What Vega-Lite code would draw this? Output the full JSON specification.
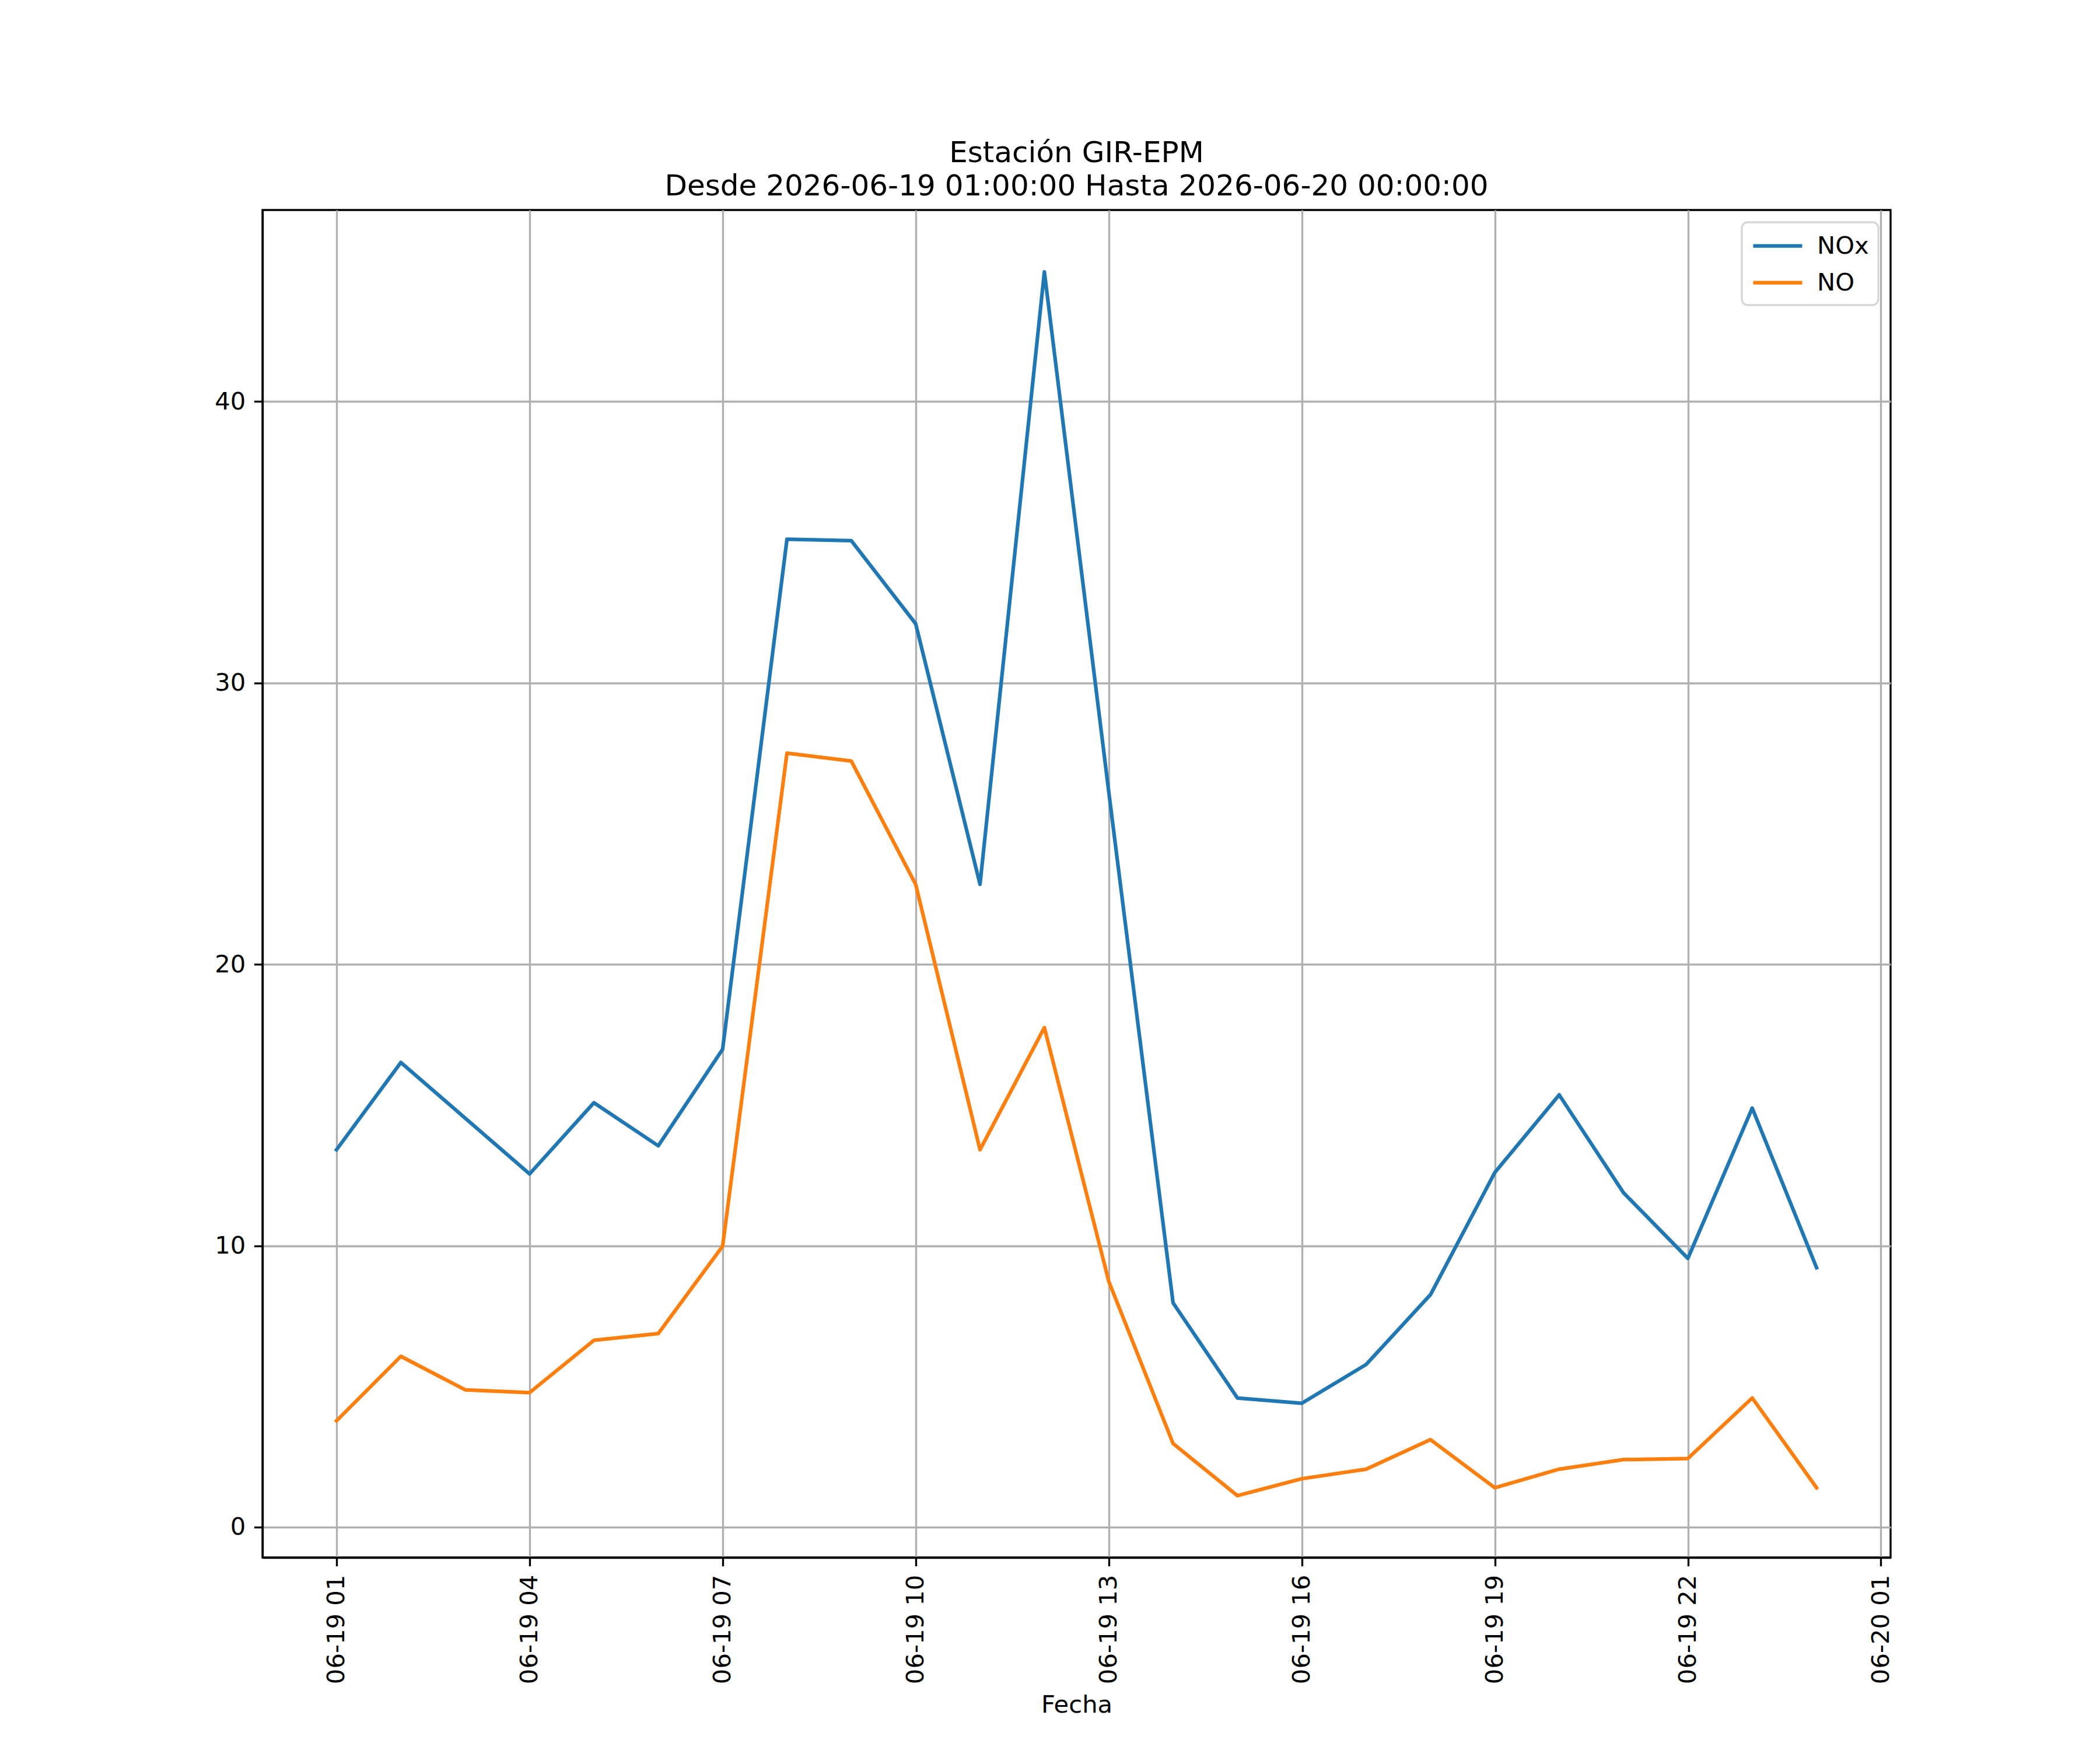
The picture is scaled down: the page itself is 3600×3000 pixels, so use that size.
{
  "$schema": "https://vega.github.io/schema/vega-lite/v6.json",
  "autosize": {"type": "none"},
  "width": 2791,
  "height": 2310,
  "padding": {"left": 450, "top": 360, "right": 359, "bottom": 330},
  "background": "white",
  "title": {
    "text": ["Estación GIR-EPM", "Desde 2026-06-19 01:00:00 Hasta 2026-06-20 00:00:00"],
    "anchor": "middle",
    "frame": "group",
    "baseline": "bottom",
    "offset": -35,
    "lineHeight": 57,
    "font": "DejaVu Sans",
    "fontSize": 50,
    "fontWeight": "normal",
    "color": "black"
  },
  "data": {
    "values": [
      {"fecha": "2026-06-19T01:00:00Z", "serie": "NOx", "valor": 13.41},
      {"fecha": "2026-06-19T02:00:00Z", "serie": "NOx", "valor": 16.51},
      {"fecha": "2026-06-19T03:00:00Z", "serie": "NOx", "valor": 14.53},
      {"fecha": "2026-06-19T04:00:00Z", "serie": "NOx", "valor": 12.55},
      {"fecha": "2026-06-19T05:00:00Z", "serie": "NOx", "valor": 15.08},
      {"fecha": "2026-06-19T06:00:00Z", "serie": "NOx", "valor": 13.55},
      {"fecha": "2026-06-19T07:00:00Z", "serie": "NOx", "valor": 16.98},
      {"fecha": "2026-06-19T08:00:00Z", "serie": "NOx", "valor": 35.1},
      {"fecha": "2026-06-19T09:00:00Z", "serie": "NOx", "valor": 35.05},
      {"fecha": "2026-06-19T10:00:00Z", "serie": "NOx", "valor": 32.1},
      {"fecha": "2026-06-19T11:00:00Z", "serie": "NOx", "valor": 22.84},
      {"fecha": "2026-06-19T12:00:00Z", "serie": "NOx", "valor": 44.6},
      {"fecha": "2026-06-19T13:00:00Z", "serie": "NOx", "valor": 26.14},
      {"fecha": "2026-06-19T14:00:00Z", "serie": "NOx", "valor": 7.97},
      {"fecha": "2026-06-19T15:00:00Z", "serie": "NOx", "valor": 4.59},
      {"fecha": "2026-06-19T16:00:00Z", "serie": "NOx", "valor": 4.4},
      {"fecha": "2026-06-19T17:00:00Z", "serie": "NOx", "valor": 5.78},
      {"fecha": "2026-06-19T18:00:00Z", "serie": "NOx", "valor": 8.26},
      {"fecha": "2026-06-19T19:00:00Z", "serie": "NOx", "valor": 12.6},
      {"fecha": "2026-06-19T20:00:00Z", "serie": "NOx", "valor": 15.36},
      {"fecha": "2026-06-19T21:00:00Z", "serie": "NOx", "valor": 11.88},
      {"fecha": "2026-06-19T22:00:00Z", "serie": "NOx", "valor": 9.55},
      {"fecha": "2026-06-19T23:00:00Z", "serie": "NOx", "valor": 14.89},
      {"fecha": "2026-06-20T00:00:00Z", "serie": "NOx", "valor": 9.22},
      {"fecha": "2026-06-19T01:00:00Z", "serie": "NO", "valor": 3.78},
      {"fecha": "2026-06-19T02:00:00Z", "serie": "NO", "valor": 6.07},
      {"fecha": "2026-06-19T03:00:00Z", "serie": "NO", "valor": 4.88},
      {"fecha": "2026-06-19T04:00:00Z", "serie": "NO", "valor": 4.78},
      {"fecha": "2026-06-19T05:00:00Z", "serie": "NO", "valor": 6.64},
      {"fecha": "2026-06-19T06:00:00Z", "serie": "NO", "valor": 6.88},
      {"fecha": "2026-06-19T07:00:00Z", "serie": "NO", "valor": 9.98},
      {"fecha": "2026-06-19T08:00:00Z", "serie": "NO", "valor": 27.5},
      {"fecha": "2026-06-19T09:00:00Z", "serie": "NO", "valor": 27.22},
      {"fecha": "2026-06-19T10:00:00Z", "serie": "NO", "valor": 22.84},
      {"fecha": "2026-06-19T11:00:00Z", "serie": "NO", "valor": 13.41},
      {"fecha": "2026-06-19T12:00:00Z", "serie": "NO", "valor": 17.75},
      {"fecha": "2026-06-19T13:00:00Z", "serie": "NO", "valor": 8.74},
      {"fecha": "2026-06-19T14:00:00Z", "serie": "NO", "valor": 2.97},
      {"fecha": "2026-06-19T15:00:00Z", "serie": "NO", "valor": 1.12},
      {"fecha": "2026-06-19T16:00:00Z", "serie": "NO", "valor": 1.72},
      {"fecha": "2026-06-19T17:00:00Z", "serie": "NO", "valor": 2.06},
      {"fecha": "2026-06-19T18:00:00Z", "serie": "NO", "valor": 3.11},
      {"fecha": "2026-06-19T19:00:00Z", "serie": "NO", "valor": 1.4},
      {"fecha": "2026-06-19T20:00:00Z", "serie": "NO", "valor": 2.06},
      {"fecha": "2026-06-19T21:00:00Z", "serie": "NO", "valor": 2.4},
      {"fecha": "2026-06-19T22:00:00Z", "serie": "NO", "valor": 2.44},
      {"fecha": "2026-06-19T23:00:00Z", "serie": "NO", "valor": 4.59},
      {"fecha": "2026-06-20T00:00:00Z", "serie": "NO", "valor": 1.4}
    ]
  },
  "mark": {"type": "line", "strokeWidth": 6.25, "strokeJoin": "round", "strokeCap": "square"},
  "encoding": {
    "x": {
      "field": "fecha",
      "type": "temporal",
      "title": "Fecha",
      "scale": {
        "type": "utc",
        "domain": [
          {"utc": true, "year": 2026, "month": 6, "date": 18, "hours": 23, "minutes": 51},
          {"utc": true, "year": 2026, "month": 6, "date": 20, "hours": 1, "minutes": 9}
        ]
      },
      "axis": {
        "values": [
          {"utc": true, "year": 2026, "month": 6, "date": 19, "hours": 1},
          {"utc": true, "year": 2026, "month": 6, "date": 19, "hours": 4},
          {"utc": true, "year": 2026, "month": 6, "date": 19, "hours": 7},
          {"utc": true, "year": 2026, "month": 6, "date": 19, "hours": 10},
          {"utc": true, "year": 2026, "month": 6, "date": 19, "hours": 13},
          {"utc": true, "year": 2026, "month": 6, "date": 19, "hours": 16},
          {"utc": true, "year": 2026, "month": 6, "date": 19, "hours": 19},
          {"utc": true, "year": 2026, "month": 6, "date": 19, "hours": 22},
          {"utc": true, "year": 2026, "month": 6, "date": 20, "hours": 1}
        ],
        "labelExpr": "utcFormat(datum.value, '%m-%d %H')",
        "labelAngle": 270,
        "labelAlign": "right",
        "labelBaseline": "middle",
        "labelOverlap": false,
        "labelFlush": false,
        "labelLimit": 1000,
        "titlePadding": 32,
        "titleBaseline": "top"
      }
    },
    "y": {
      "field": "valor",
      "type": "quantitative",
      "title": null,
      "scale": {"domain": [-1.078, 46.8], "nice": false, "zero": false},
      "axis": {"values": [0, 10, 20, 30, 40]}
    },
    "color": {
      "field": "serie",
      "type": "nominal",
      "scale": {"domain": ["NOx", "NO"], "range": ["#1f77b4", "#ff7f0e"]},
      "legend": {
        "title": null,
        "orient": "top-right",
        "offset": 21,
        "symbolType": "M-2,0H2",
        "symbolSize": 1764,
        "symbolOffset": 21,
        "symbolStrokeWidth": 6.25,
        "labelOffset": 43,
        "labelFontSize": 41.7,
        "labelFont": "DejaVu Sans",
        "labelColor": "black",
        "rowPadding": 16,
        "padding": 16,
        "strokeColor": "#d6d6d6",
        "cornerRadius": 10,
        "fillColor": "white"
      }
    }
  },
  "config": {
    "font": "DejaVu Sans",
    "view": {"stroke": "black", "strokeWidth": 3.33},
    "legend": {"strokeWidth": 3.3},
    "axis": {
      "labelFont": "DejaVu Sans",
      "labelFontSize": 41.7,
      "labelColor": "black",
      "labelPadding": 14.6,
      "titleFont": "DejaVu Sans",
      "titleFontSize": 41.7,
      "titleFontWeight": "normal",
      "titleColor": "black",
      "domainColor": "black",
      "domainWidth": 3.33,
      "tickColor": "black",
      "tickWidth": 3.33,
      "tickSize": 14.6,
      "grid": true,
      "gridColor": "#b0b0b0",
      "gridWidth": 3.33
    }
  }
}
